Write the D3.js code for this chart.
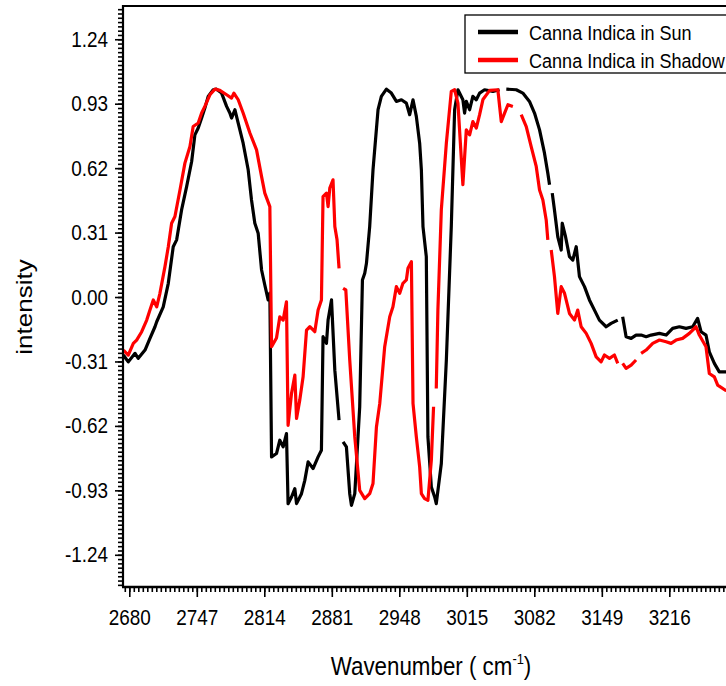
<!DOCTYPE html>
<html>
<head>
<meta charset="utf-8">
<script src="https://cdn.jsdelivr.net/npm/d3@7"></script>
<style>
  body { margin: 0; background: #fff; }
  svg { display: block; }
</style>
</head>
<body>
<script>
var width = 726,
    height = 686,
    squeeze = 0.86; // text in the original is a little narrow

// Spectra: [wavenumber, intensity], null = gap in the trace
var sunSpectrum = [
  [2674.1,-0.279],[2679.0,-0.312],[2685.7,-0.271],[2688.9,-0.295],[2695.6,-0.255],[2700.5,-0.199],
  [2705.5,-0.143],[2707.2,-0.119],[2713.7,-0.047],[2718.7,0.066],[2723.6,0.242],[2727.0,0.275],
  [2731.9,0.419],[2736.9,0.531],[2741.9,0.652],[2745.1,0.780],[2748.4,0.813],[2751.8,0.861],
  [2755.0,0.909],[2758.3,0.965],[2763.3,0.997],[2766.6,1.000],[2771.6,0.981],[2776.6,0.917],
  [2779.8,0.885],[2781.5,0.861],[2784.8,0.901],[2788.1,0.837],[2793.0,0.740],[2798.0,0.612],
  [2801.3,0.467],[2804.6,0.355],[2807.9,0.307],[2811.3,0.130],[2814.5,0.058],[2817.8,-0.014],
  [2819.5,0.019],[2821.2,-0.769],[2826.1,-0.753],[2829.4,-0.689],[2832.7,-0.721],[2836.0,-0.657],
  [2837.6,-0.994],[2841.0,-0.962],[2844.3,-0.922],[2846.0,-0.994],[2850.9,-0.946],[2854.2,-0.882],
  [2857.5,-0.793],[2862.4,-0.825],[2867.4,-0.769],[2870.7,-0.737],[2872.3,-0.191],[2875.7,-0.223],
  [2877.3,-0.111],[2879.0,-0.063],[2880.7,-0.014],[2884.0,-0.352],[2888.2,-0.592],[2890.2,null],
  [2892.2,-0.697],[2895.5,-0.721],[2898.8,-0.946],[2900.5,-1.002],[2903.8,-0.946],[2908.7,-0.528],
  [2911.4,0.082],[2913.7,0.114],[2915.4,0.162],[2918.6,0.339],[2921.9,0.612],[2926.9,0.901],
  [2930.2,0.965],[2935.2,1.000],[2940.1,0.981],[2945.1,0.941],[2950.1,0.949],[2955.0,0.933],
  [2958.3,0.877],[2961.6,0.949],[2964.9,0.869],[2968.2,0.740],[2969.9,0.612],[2971.5,0.339],
  [2974.8,0.194],[2976.4,-0.673],[2979.8,-0.914],[2983.1,-0.962],[2984.7,-0.994],[2989.7,-0.801],
  [2994.7,-0.303],[2999.6,0.339],[3002.9,0.901],[3006.2,0.997],[3011.1,0.949],[3012.8,0.885],
  [3014.5,0.941],[3017.8,0.901],[3021.0,0.965],[3024.4,0.949],[3027.7,0.981],[3032.6,0.997],
  [3040.9,0.989],[3047.5,0.997],[3051.0,null],[3054.2,1.000],[3064.1,0.997],[3070.6,0.981],
  [3077.2,0.941],[3082.2,0.885],[3087.2,0.804],[3092.1,0.692],[3095.4,0.596],[3097.1,0.540],
  [3098.5,null],[3099.8,0.500],[3102.0,0.419],[3105.3,0.290],[3108.7,0.226],[3109.7,0.355],
  [3113.0,0.290],[3116.9,0.194],[3120.2,0.178],[3123.6,0.242],[3126.8,0.098],[3131.8,0.050],
  [3136.7,-0.014],[3141.7,-0.063],[3146.6,-0.111],[3153.3,-0.143],[3158.2,-0.127],[3164.8,-0.111],
  [3167.0,null],[3169.7,-0.095],[3173.1,-0.191],[3178.1,-0.199],[3183.0,-0.183],[3188.0,-0.183],
  [3193.0,-0.191],[3197.9,-0.183],[3206.2,-0.175],[3212.8,-0.183],[3219.3,-0.151],[3226.0,-0.143],
  [3232.6,-0.151],[3239.2,-0.143],[3244.1,-0.103],[3247.5,-0.167],[3252.4,-0.183],[3255.7,-0.264],
  [3260.7,-0.319],[3265.6,-0.360],[3271.6,-0.360],[3285.0,-0.365]
];

var shadowSpectrum = [
  [2674.1,-0.255],[2679.0,-0.279],[2684.0,-0.223],[2687.3,-0.207],[2692.3,-0.167],[2697.3,-0.111],
  [2700.5,-0.063],[2703.8,-0.014],[2707.2,-0.047],[2710.4,0.018],[2715.4,0.146],[2718.7,0.242],
  [2722.0,0.355],[2725.3,0.387],[2730.3,0.515],[2735.2,0.644],[2740.2,0.724],[2743.4,0.820],
  [2748.4,0.837],[2751.8,0.885],[2755.0,0.917],[2760.0,0.973],[2765.0,1.000],[2769.9,0.994],
  [2776.6,0.973],[2781.5,0.957],[2783.8,0.981],[2788.1,0.949],[2793.0,0.885],[2799.7,0.789],
  [2806.3,0.708],[2811.3,0.579],[2814.5,0.500],[2819.5,0.435],[2821.2,-0.239],[2826.1,-0.197],
  [2829.4,-0.095],[2832.7,-0.111],[2836.0,-0.023],[2837.6,-0.617],[2841.0,-0.464],[2844.3,-0.376],
  [2846.0,-0.584],[2849.2,-0.496],[2852.5,-0.384],[2855.9,-0.159],[2859.2,-0.143],[2864.1,-0.167],
  [2867.4,-0.063],[2870.7,-0.014],[2872.3,0.483],[2875.7,0.500],[2877.3,0.435],[2879.0,0.524],
  [2882.2,0.564],[2884.0,0.339],[2886.2,0.275],[2888.2,0.138],[2890.2,null],[2892.2,0.042],
  [2894.9,0.034],[2898.8,-0.303],[2903.8,-0.673],[2908.7,-0.930],[2913.7,-0.970],[2918.6,-0.946],
  [2921.9,-0.897],[2925.3,-0.625],[2928.6,-0.512],[2933.5,-0.239],[2938.5,-0.095],[2941.7,-0.047],
  [2945.1,0.050],[2948.4,0.018],[2951.6,0.066],[2955.0,0.082],[2956.6,0.138],[2960.0,0.170],
  [2961.6,-0.512],[2964.9,-0.673],[2968.2,-0.817],[2969.9,-0.946],[2973.1,-0.970],[2976.4,-0.978],
  [2979.8,-0.785],[2982.0,-0.528],[2983.3,null],[2984.7,-0.440],[2986.3,-0.063],[2989.7,0.419],
  [2994.7,0.740],[2999.6,0.989],[3002.9,0.997],[3006.2,0.933],[3011.1,0.540],[3014.5,0.804],
  [3017.8,0.780],[3021.0,0.844],[3024.4,0.813],[3027.7,0.877],[3031.0,0.950],[3037.7,0.994],
  [3045.8,0.997],[3049.2,0.844],[3052.5,0.885],[3055.8,0.925],[3060.7,0.917],[3065.0,null],
  [3069.0,0.877],[3074.0,0.820],[3078.9,0.724],[3083.9,0.628],[3087.2,0.515],[3090.5,0.467],
  [3093.8,0.371],[3095.4,0.275],[3097.0,null],[3098.8,0.226],[3102.0,0.098],[3105.3,-0.079],
  [3108.7,0.050],[3112.0,0.018],[3116.9,-0.079],[3121.9,-0.111],[3125.1,-0.063],[3128.5,-0.143],
  [3133.5,-0.175],[3138.4,-0.223],[3143.4,-0.288],[3148.3,-0.312],[3151.6,-0.279],[3156.6,-0.295],
  [3161.5,-0.279],[3164.8,-0.319],[3167.0,null],[3169.7,-0.319],[3173.1,-0.343],[3178.1,-0.328],
  [3183.0,-0.303],[3185.5,null],[3188.0,-0.271],[3193.0,-0.255],[3199.5,-0.223],[3206.2,-0.207],
  [3212.8,-0.215],[3217.7,-0.223],[3222.7,-0.207],[3229.2,-0.199],[3235.9,-0.175],[3242.5,-0.143],
  [3245.8,-0.183],[3252.4,-0.239],[3255.7,-0.368],[3260.7,-0.384],[3264.0,-0.424],[3271.6,-0.448],
  [3285.0,-0.460]
];

var seriesNames = ["Canna Indica in Sun", "Canna Indica in Shadow"],
    seriesColors = ["#000000", "#ff0000"];

var xTicks = [2680, 2747, 2814, 2881, 2948, 3015, 3082, 3149, 3216],
    yTicks = [-1.24, -0.93, -0.62, -0.31, 0, 0.31, 0.62, 0.93, 1.24],
    minorPerMajor = 15;

var plotLeft = 123,
    plotTop = 6,
    plotBottom = 587;

var x = d3.scaleLinear()
    .domain([2673.75, 3285])
    .range([plotLeft, plotLeft + (3285 - 2673.75) * 1.0075]);

var y = d3.scaleLinear()
    .domain([-1.395, 1.40])
    .range([plotBottom, plotTop]);

var plotRight = x.range()[1];

var svg = d3.select("body")
    .append("svg")
    .attr("width", width)
    .attr("height", height)
    .style("font-family", "'Liberation Sans', Arial, sans-serif");

// minor tick values, 15 per major step
var xStep = (xTicks[1] - xTicks[0]) / minorPerMajor,
    yStep = (yTicks[1] - yTicks[0]) / minorPerMajor;
var xMinor = d3.range(Math.ceil((x.domain()[0] - xTicks[0]) / xStep), Math.floor((x.domain()[1] - xTicks[0]) / xStep) + 1)
    .map(function(i) { return xTicks[0] + i * xStep; });
var yMinor = d3.range(Math.ceil(y.domain()[0] / yStep), Math.floor(y.domain()[1] / yStep) + 1)
    .map(function(i) { return i * yStep; });

/* Axes */

var xMinorG = svg.append("g")
    .attr("transform", "translate(0," + plotBottom + ")")
    .call(d3.axisBottom(x).tickValues(xMinor).tickSize(5).tickSizeOuter(0).tickFormat(""));
var xAxisG = svg.append("g")
    .attr("transform", "translate(0," + plotBottom + ")")
    .call(d3.axisBottom(x).tickValues(xTicks).tickSize(10).tickSizeOuter(0).tickPadding(12)
          .tickFormat(function(d) { return String(d); }));

var yMinorG = svg.append("g")
    .attr("transform", "translate(" + plotLeft + ",0)")
    .call(d3.axisLeft(y).tickValues(yMinor).tickSize(5).tickSizeOuter(0).tickFormat(""));
var yAxisG = svg.append("g")
    .attr("transform", "translate(" + plotLeft + ",0)")
    .call(d3.axisLeft(y).tickValues(yTicks).tickSize(8).tickSizeOuter(0).tickPadding(7)
          .tickFormat(function(d) { return d.toFixed(2); }));

[xMinorG, xAxisG, yMinorG, yAxisG].forEach(function(g) {
  g.select(".domain").remove();
  g.selectAll(".tick line").attr("stroke", "#000").attr("stroke-width", 1.6);
});

xAxisG.selectAll("text")
    .attr("font-size", 22)
    .attr("fill", "#000")
    .attr("transform", "scale(" + squeeze + ",1)");

yAxisG.selectAll("text")
    .attr("font-size", 22)
    .attr("fill", "#000")
    .attr("x", -15 / squeeze)
    .attr("transform", "scale(" + squeeze + ",1)");

// frame: left axis, bottom axis, top line
svg.append("path")
    .attr("d", "M" + plotLeft + "," + plotBottom + "V" + plotTop + "H" + plotRight)
    .attr("fill", "none").attr("stroke", "#000").attr("stroke-width", 2.2);
svg.append("path")
    .attr("d", "M" + (plotLeft - 1) + "," + plotBottom + "H" + plotRight)
    .attr("fill", "none").attr("stroke", "#000").attr("stroke-width", 2.6);

/* Spectra */

svg.append("clipPath").attr("id", "plot-clip")
  .append("rect")
    .attr("x", plotLeft + 1).attr("y", plotTop + 1)
    .attr("width", plotRight - plotLeft).attr("height", plotBottom - plotTop - 2);

var line = d3.line()
    .defined(function(d) { return d[1] !== null; })
    .x(function(d) { return x(d[0]); })
    .y(function(d) { return y(d[1]); });

var lines_g = svg.append("g").attr("clip-path", "url(#plot-clip)");

[sunSpectrum, shadowSpectrum].forEach(function(data, i) {
  lines_g.append("path")
      .datum(data)
      .attr("d", line)
      .attr("fill", "none")
      .attr("stroke", seriesColors[i])
      .attr("stroke-width", 3.2)
      .attr("stroke-linejoin", "round");
});

/* Legend */

var legend = svg.append("g");
legend.append("rect")
    .attr("x", 465).attr("y", 15)
    .attr("width", 300).attr("height", 58)
    .attr("fill", "#fff").attr("stroke", "#000").attr("stroke-width", 1.3);

seriesNames.forEach(function(name, i) {
  var row = 32 + i * 28;
  legend.append("line")
      .attr("x1", 478).attr("x2", 518)
      .attr("y1", row).attr("y2", row)
      .attr("stroke", seriesColors[i]).attr("stroke-width", 4.5);
  legend.append("text")
      .attr("transform", "translate(529," + (row + 8) + ") scale(" + squeeze + ",1)")
      .attr("font-size", 21)
      .attr("fill", "#000")
      .text(name);
});

/* Axis titles */

var xTitle = svg.append("text")
    .attr("transform", "translate(431,675) scale(" + squeeze + ",1)")
    .attr("text-anchor", "middle")
    .attr("font-size", 26)
    .attr("fill", "#000");
xTitle.append("tspan").text("Wavenumber ( cm");
xTitle.append("tspan").attr("font-size", 15).attr("dy", -11).text("-1");
xTitle.append("tspan").attr("dy", 11).text(")");

svg.append("text")
    .attr("transform", "translate(32,307) scale(" + squeeze + ",1) rotate(-90)")
    .attr("text-anchor", "middle")
    .attr("font-size", 26)
    .attr("fill", "#000")
    .text("intensity");
</script>
</body>
</html>
